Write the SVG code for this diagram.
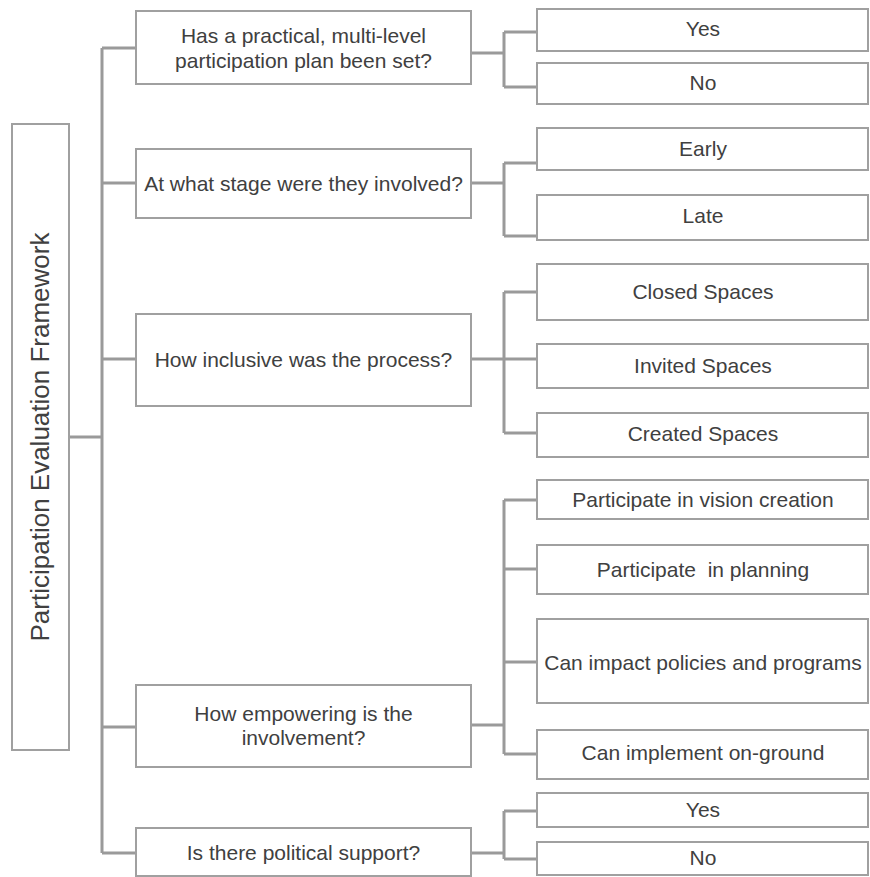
<svg xmlns="http://www.w3.org/2000/svg" width="870" height="877" viewBox="0 0 870 877">
<style>
.box{fill:#ffffff;stroke:#a0a0a0;stroke-width:2}
.t{font-family:"Liberation Sans",Arial,sans-serif;font-size:21px;fill:#404040;text-anchor:middle}
.c{fill:none;stroke:#9a9a9a;stroke-width:3}
</style>
<rect width="870" height="877" fill="#ffffff"/>
<g id="connectors">
<path class="c" d="M69,437H102M102,48V853M102,48H136M102,183H136M102,359H136M102,727H136M102,853H136"/>
<path class="c" d="M471,53H504M504,32V87M504,32H537M504,87H537"/>
<path class="c" d="M471,183H504M504,163V236M504,163H537M504,236H537"/>
<path class="c" d="M471,359H504M504,292V433M504,292H537M504,359H537M504,433H537"/>
<path class="c" d="M471,725H504M504,500V754M504,500H537M504,569H537M504,662H537M504,754H537"/>
<path class="c" d="M471,853H504M504,811V859M504,811H537M504,859H537"/>
</g>
<g id="root">
<rect class="box" x="12" y="124" width="57" height="626"/>
<text class="t" style="font-size:26px" transform="translate(49,437) rotate(-90)">Participation Evaluation Framework</text>
</g>
<g id="q1">
<rect class="box" x="136" y="11" width="335" height="73"/>
<text class="t" x="303.5" y="43">Has a practical, multi-level</text>
<text class="t" x="303.5" y="68">participation plan been set?</text>
</g>
<g id="q2">
<rect class="box" x="136" y="149" width="335" height="69"/>
<text class="t" x="303.5" y="191">At what stage were they involved?</text>
</g>
<g id="q3">
<rect class="box" x="136" y="314" width="335" height="92"/>
<text class="t" x="303.5" y="367">How inclusive was the process?</text>
</g>
<g id="q4">
<rect class="box" x="136" y="685" width="335" height="82"/>
<text class="t" x="303.5" y="721">How empowering is the</text>
<text class="t" x="303.5" y="745">involvement?</text>
</g>
<g id="q5">
<rect class="box" x="136" y="828" width="335" height="48"/>
<text class="t" x="303.5" y="860">Is there political support?</text>
</g>
<g id="a1-yes">
<rect class="box" x="537" y="9" width="331" height="42"/>
<text class="t" x="703" y="36">Yes</text>
</g>
<g id="a1-no">
<rect class="box" x="537" y="63" width="331" height="41"/>
<text class="t" x="703" y="90">No</text>
</g>
<g id="a2-early">
<rect class="box" x="537" y="128" width="331" height="42"/>
<text class="t" x="703" y="156">Early</text>
</g>
<g id="a2-late">
<rect class="box" x="537" y="195" width="331" height="45"/>
<text class="t" x="703" y="223">Late</text>
</g>
<g id="a3-closed">
<rect class="box" x="537" y="264" width="331" height="56"/>
<text class="t" x="703" y="299">Closed Spaces</text>
</g>
<g id="a3-invited">
<rect class="box" x="537" y="344" width="331" height="44"/>
<text class="t" x="703" y="373">Invited Spaces</text>
</g>
<g id="a3-created">
<rect class="box" x="537" y="413" width="331" height="44"/>
<text class="t" x="703" y="441">Created Spaces</text>
</g>
<g id="a4-vision">
<rect class="box" x="537" y="480" width="331" height="39"/>
<text class="t" x="703" y="507">Participate in vision creation</text>
</g>
<g id="a4-planning">
<rect class="box" x="537" y="545" width="331" height="49"/>
<text class="t" x="703" y="577" xml:space="preserve">Participate  in planning</text>
</g>
<g id="a4-impact">
<rect class="box" x="537" y="619" width="331" height="84"/>
<text class="t" x="703" y="670">Can impact policies and programs</text>
</g>
<g id="a4-implement">
<rect class="box" x="537" y="730" width="331" height="49"/>
<text class="t" x="703" y="760">Can implement on-ground</text>
</g>
<g id="a5-yes">
<rect class="box" x="537" y="793" width="331" height="34"/>
<text class="t" x="703" y="817">Yes</text>
</g>
<g id="a5-no">
<rect class="box" x="537" y="842" width="331" height="33"/>
<text class="t" x="703" y="865">No</text>
</g>
</svg>
